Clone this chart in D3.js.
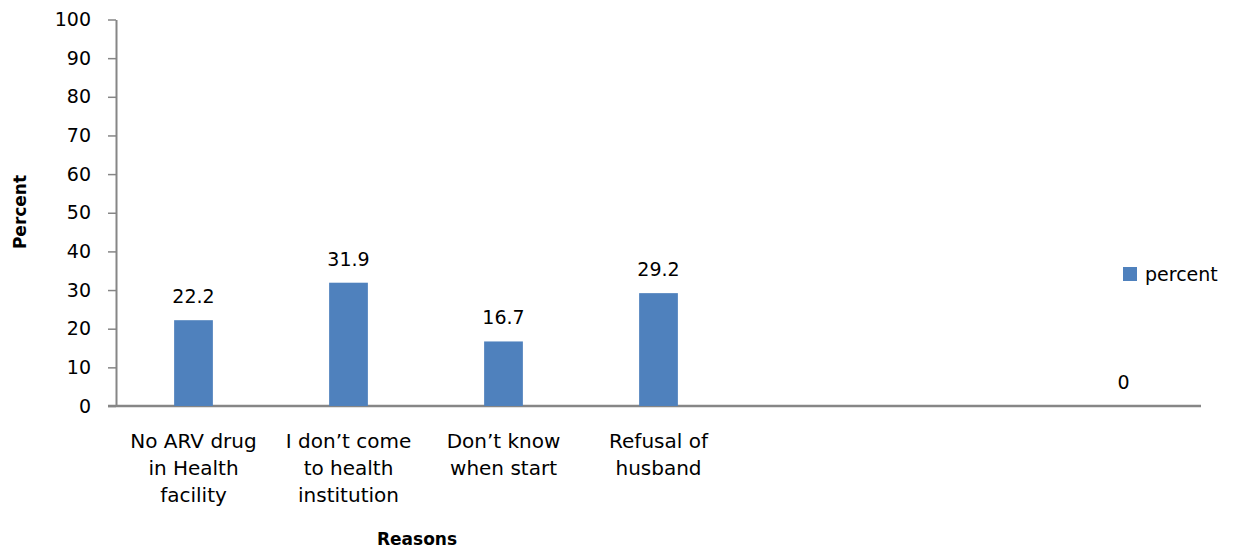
<!DOCTYPE html>
<html>
<head>
<meta charset="utf-8">
<script src="https://cdn.jsdelivr.net/npm/d3@7"></script>
<style>
  body { margin: 0; background: #fff; }
  text { font-family: "DejaVu Sans", sans-serif; fill: #000; }
</style>
</head>
<body>
<svg id="chart" width="1239" height="550"></svg>
<script>
const categories = [
  'No ARV drug\nin Health\nfacility',
  'I don\u2019t come\nto health\ninstitution',
  'Don\u2019t know\nwhen start',
  'Refusal of\nhusband',
  '',
  ' ',
  '  '
]
const percent = [22.2, 31.9, 16.7, 29.2, null, null, 0]
const yTicks = [0, 10, 20, 30, 40, 50, 60, 70, 80, 90, 100]
const seriesName = 'percent'

const svg = d3.select('#chart'),
  plotLeft = 116,
  plotRight = 1201,
  plotTop = 19.5,
  plotBottom = 406,
  barColor = '#4F81BD',
  axisColor = '#868686'

const x = d3.scaleBand().domain(categories).range([plotLeft, plotRight]).paddingInner(0.75).paddingOuter(0.375)
const y = d3.scaleLinear().domain([0, 100]).range([plotBottom, plotTop])

// y axis
const yAxis = svg.append('g')
  .attr('transform', `translate(${plotLeft},0)`)
  .call(d3.axisLeft(y).tickValues(yTicks).tickSize(8).tickSizeOuter(0).tickPadding(17))
yAxis.select('.domain').attr('stroke', axisColor).attr('stroke-width', 2)
yAxis.selectAll('.tick line').attr('stroke', axisColor).attr('stroke-width', 1.5)
yAxis.selectAll('.tick text').style('font-size', '19px').style('font-family', '"DejaVu Sans", sans-serif').attr('fill', '#000')

// x axis line
svg.append('line')
  .attr('x1', plotLeft - 8).attr('x2', plotRight)
  .attr('y1', plotBottom).attr('y2', plotBottom)
  .attr('stroke', axisColor).attr('stroke-width', 2.5)

const data = categories.map((c, i) => ({ c, v: percent[i] }))

svg.append('g').selectAll('rect')
  .data(data.filter((d) => d.v))
  .enter()
  .append('rect')
  .attr('x', (d) => x(d.c))
  .attr('width', x.bandwidth())
  .attr('y', (d) => y(d.v))
  .attr('height', (d) => y(0) - y(d.v))
  .attr('fill', barColor)

svg.append('g').selectAll('text')
  .data(data.filter((d) => d.v !== null))
  .enter()
  .append('text')
  .attr('x', (d) => x(d.c) + x.bandwidth() / 2)
  .attr('y', (d) => y(d.v) - 17)
  .attr('text-anchor', 'middle')
  .style('font-size', '19px')
  .text((d) => d.v)

// category labels
const cl = svg.append('g').selectAll('text')
  .data(categories)
  .enter()
  .append('text')
  .attr('text-anchor', 'middle')
  .style('font-size', '20px')
  .attr('transform', (d) => `translate(${x(d) + x.bandwidth() / 2},448)`)
cl.selectAll('tspan')
  .data((d) => d.trim() ? d.split('\n') : [])
  .enter()
  .append('tspan')
  .attr('x', 0)
  .attr('y', (d, i) => i * 27)
  .text((d) => d)

// axis titles
svg.append('text')
  .attr('transform', 'translate(26,212) rotate(-90)')
  .attr('text-anchor', 'middle')
  .style('font-size', '17px')
  .style('font-weight', 'bold')
  .text('Percent')

svg.append('text')
  .attr('x', 417).attr('y', 545)
  .attr('text-anchor', 'middle')
  .style('font-size', '17px')
  .style('font-weight', 'bold')
  .text('Reasons')

// legend
const legend = svg.append('g').attr('transform', 'translate(1123,267)')
legend.append('rect').attr('width', 14).attr('height', 14).attr('fill', barColor)
legend.append('text').attr('x', 22).attr('y', 14).style('font-size', '19px').text(seriesName)
</script>
</body>
</html>
